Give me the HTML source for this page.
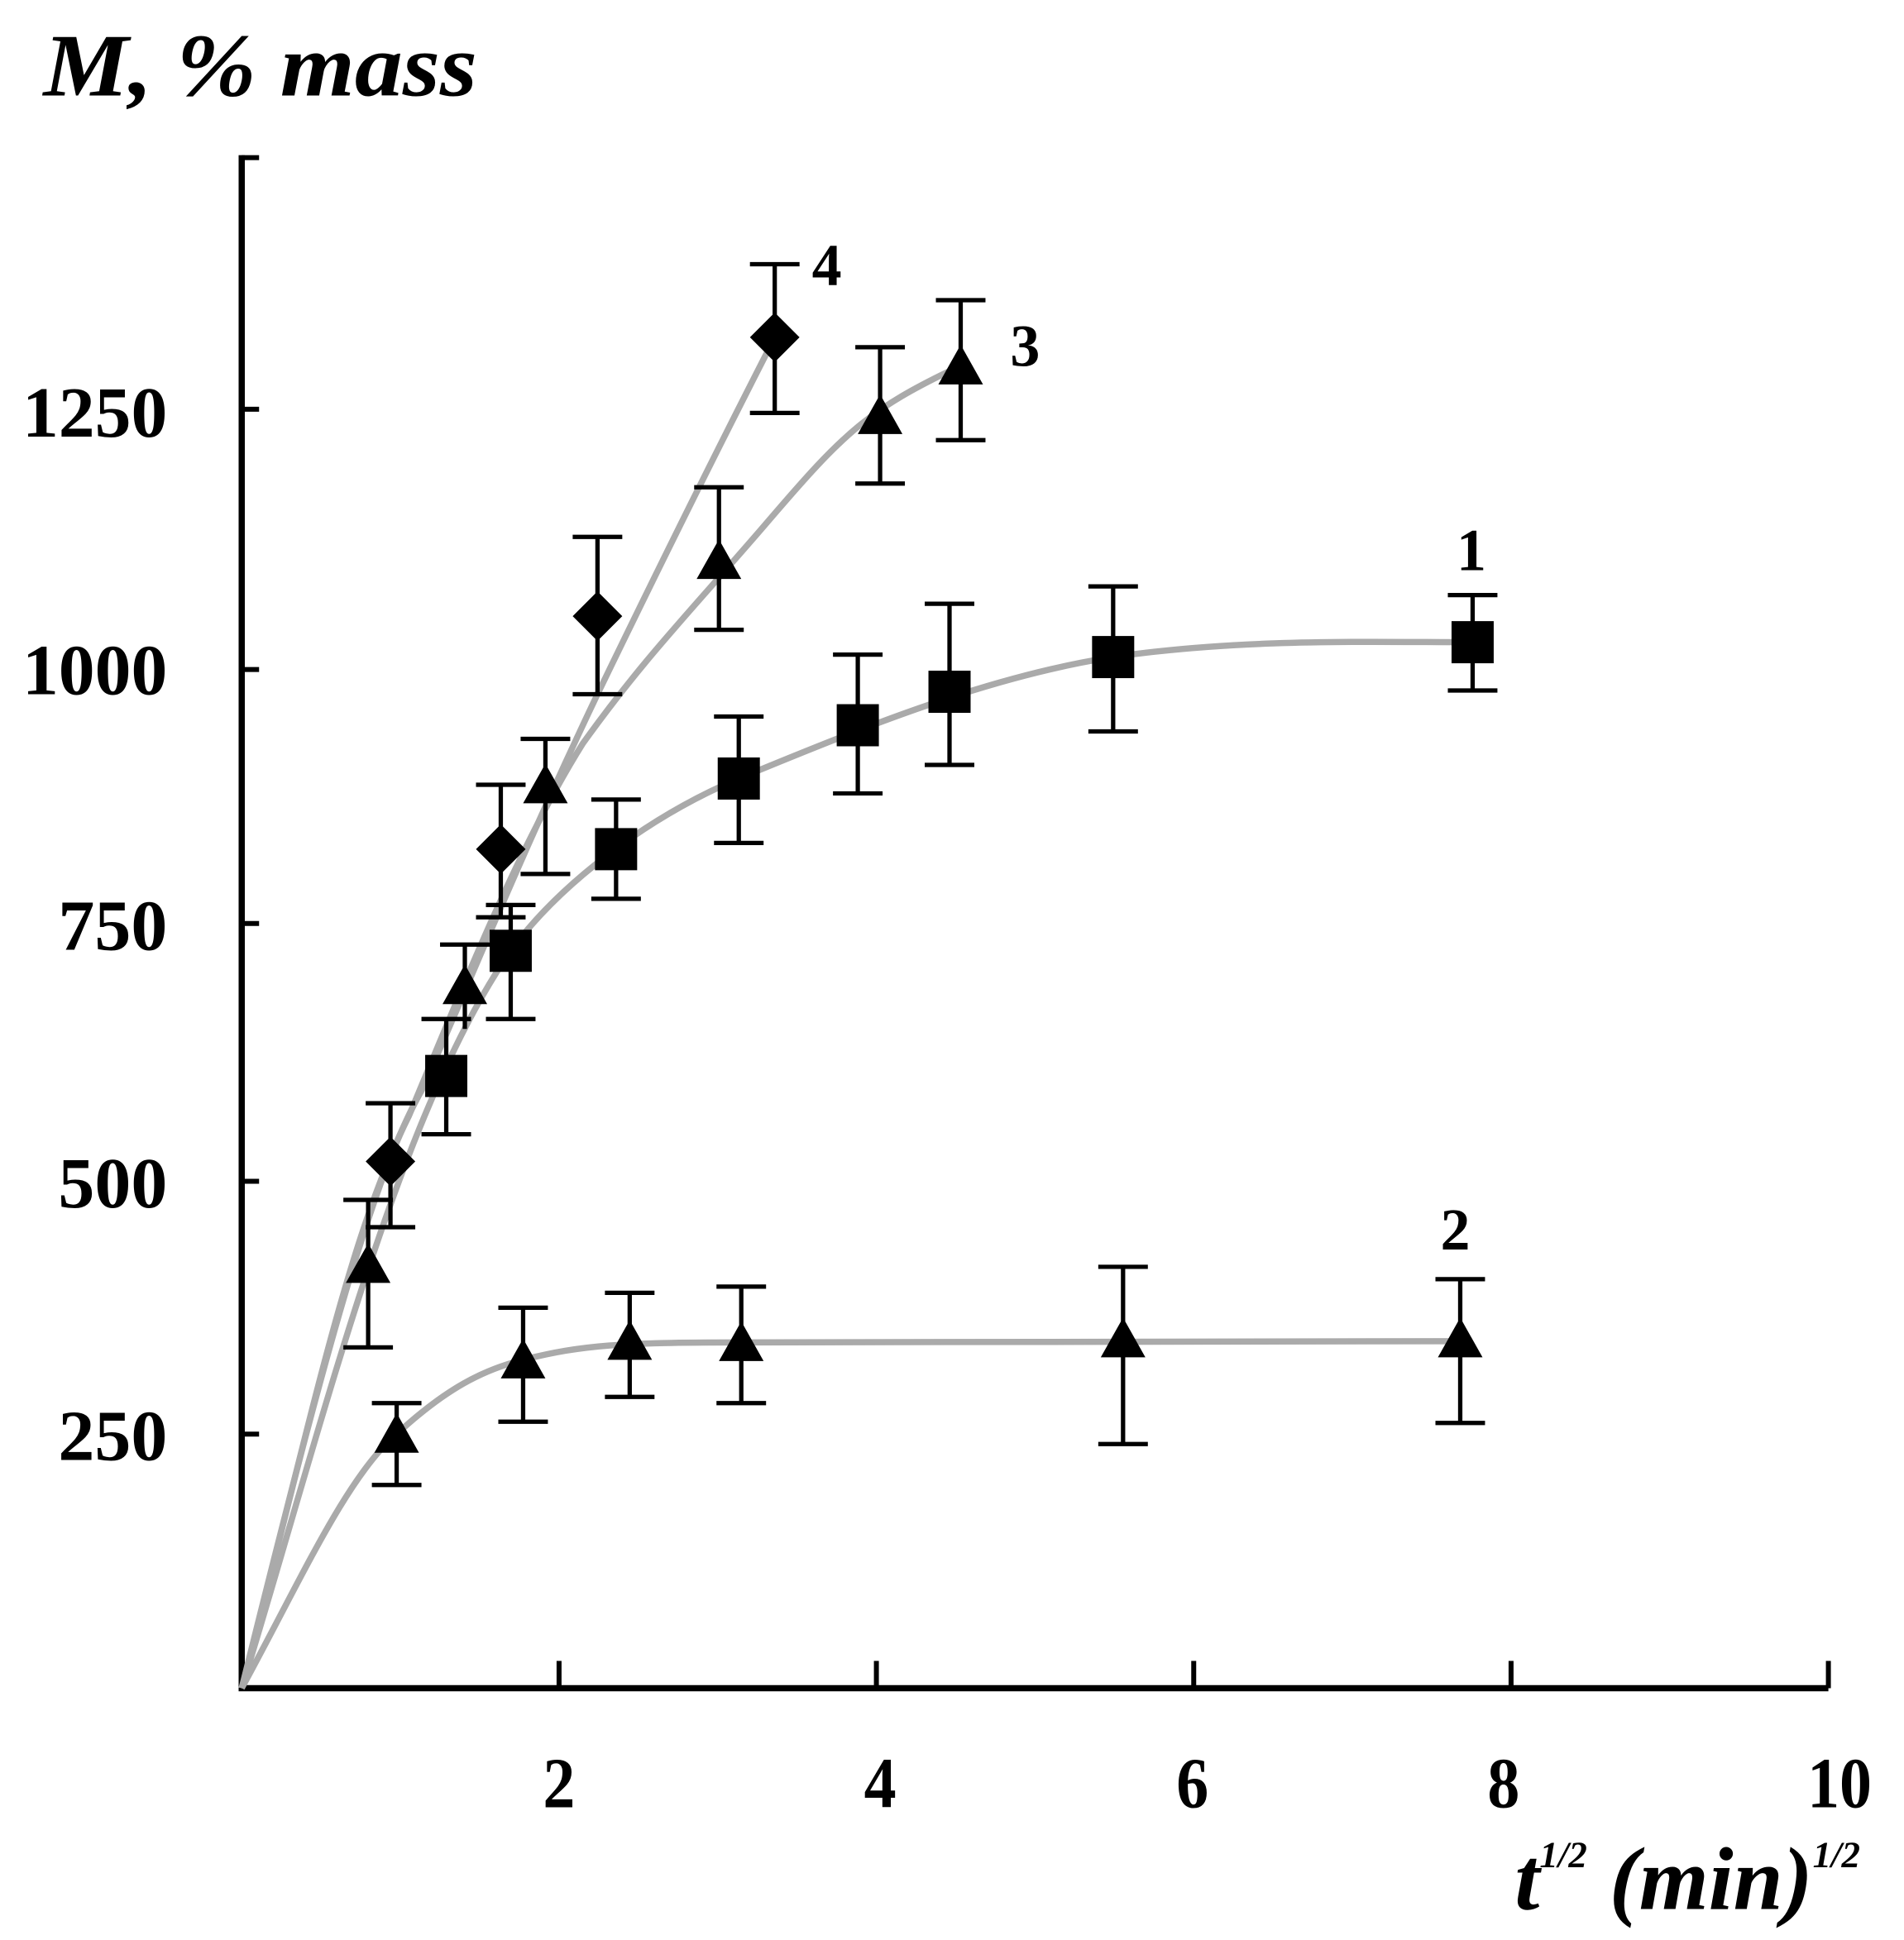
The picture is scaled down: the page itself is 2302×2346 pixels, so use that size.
<!DOCTYPE html>
<html><head><style>html,body{margin:0;padding:0;background:#fff}svg{display:block}</style></head>
<body>
<svg width="2302" height="2346" viewBox="0 0 1536 1565" xmlns="http://www.w3.org/2000/svg" font-family="Liberation Serif, serif" font-weight="bold">
<rect width="1536" height="1565" fill="#fff"/>
<g stroke="#000" stroke-width="5" fill="none">
<path d="M195,125 V1362 H1475"/>
<path d="M195,127 h14 M195,330 h14 M195,540 h14 M195,745 h14 M195,953 h14 M195,1157 h14" stroke-width="4"/>
<path d="M451,1362 v-22 M707,1362 v-22 M963,1362 v-22 M1219,1362 v-22 M1475,1362 v-22" stroke-width="4"/>
</g>
<g font-size="58">
<text x="18" y="352" textLength="117" lengthAdjust="spacingAndGlyphs">1250</text>
<text x="18" y="560" textLength="117" lengthAdjust="spacingAndGlyphs">1000</text>
<text x="47" y="766" textLength="88" lengthAdjust="spacingAndGlyphs">750</text>
<text x="47" y="974" textLength="88" lengthAdjust="spacingAndGlyphs">500</text>
<text x="47" y="1178" textLength="88" lengthAdjust="spacingAndGlyphs">250</text>
</g>
<g font-size="58">
<text x="438" y="1458" textLength="26" lengthAdjust="spacingAndGlyphs">2</text>
<text x="697" y="1458" textLength="26" lengthAdjust="spacingAndGlyphs">4</text>
<text x="949" y="1458" textLength="26" lengthAdjust="spacingAndGlyphs">6</text>
<text x="1200" y="1458" textLength="26" lengthAdjust="spacingAndGlyphs">8</text>
<text x="1458" y="1458" textLength="52" lengthAdjust="spacingAndGlyphs">10</text>
</g>
<text x="35" y="77" font-size="72" font-style="italic" textLength="350" lengthAdjust="spacingAndGlyphs">M, % mass</text>
<text x="1222" y="1540" font-size="72" font-style="italic">t<tspan font-size="30" dy="-34">1/2</tspan><tspan dy="34"> (min)</tspan><tspan font-size="30" dy="-34">1/2</tspan></text>
<g stroke="#aaa" stroke-width="5" fill="none">
<path d="M195,1362 C260,1150 320,900 412,767 C450,715 520,660 596,628 C700,585 800,545 898,530 C1000,515 1100,518 1188,518"/>
<path d="M195,1362 C240,1280 280,1190 320,1157 C360,1120 390,1105 422,1097 C470,1085 500,1083 598,1083 L1178,1082"/>
<path d="M195,1362 C250,1150 280,1000 330,900 C380,780 420,680 470,600 C520,530 560,490 620,420 C680,350 700,330 775,295"/>
<path d="M195,1362 C260,1100 300,950 340,880 C380,790 420,690 482,560 C540,440 580,360 625,272"/>
</g>
<g stroke="#000" stroke-width="3.5" fill="none">
<path d="M412,730V822M392,730h40M392,822h40"/>
<path d="M360,822V915M340,822h40M340,915h40"/>
<path d="M497,645V725M477,645h40M477,725h40"/>
<path d="M596,578V680M576,578h40M576,680h40"/>
<path d="M692,528V640M672,528h40M672,640h40"/>
<path d="M766,487V617M746,487h40M746,617h40"/>
<path d="M898,473V590M878,473h40M878,590h40"/>
<path d="M1188,480V557M1168,480h40M1168,557h40"/>
<path d="M320,1132V1198M300,1132h40M300,1198h40"/>
<path d="M422,1055V1147M402,1055h40M402,1147h40"/>
<path d="M508,1043V1127M488,1043h40M488,1127h40"/>
<path d="M598,1038V1132M578,1038h40M578,1132h40"/>
<path d="M906,1022V1165M886,1022h40M886,1165h40"/>
<path d="M1178,1032V1148M1158,1032h40M1158,1148h40"/>
<path d="M297,968V1087M277,968h40M277,1087h40"/>
<path d="M375,762V830M355,762h40"/>
<path d="M440,596V705M420,596h40M420,705h40"/>
<path d="M580,393V508M560,393h40M560,508h40"/>
<path d="M710,280V390M690,280h40M690,390h40"/>
<path d="M775,242V355M755,242h40M755,355h40"/>
<path d="M315,890V990M295,890h40M295,990h40"/>
<path d="M404,633V740M384,633h40M384,740h40"/>
<path d="M482,433V560M462,433h40M462,560h40"/>
<path d="M625,213V333M605,213h40M605,333h40"/>
</g>
<g fill="#000">
<rect x="395" y="750" width="34" height="34"/><rect x="343" y="851" width="34" height="34"/><rect x="480" y="668" width="34" height="34"/><rect x="579" y="611" width="34" height="34"/><rect x="675" y="568" width="34" height="34"/><rect x="749" y="541" width="34" height="34"/><rect x="881" y="513" width="34" height="34"/><rect x="1171" y="501" width="34" height="34"/>
<path d="M320,1140l-18,32h36z M422,1080l-18,32h36z M508,1065l-18,32h36z M598,1066l-18,32h36z M906,1063l-18,32h36z M1178,1063l-18,32h36z"/>
<path d="M297,1003l-18,32h36z M375,778l-18,32h36z M440,616l-18,32h36z M580,435l-18,32h36z M710,318l-18,32h36z M775,278l-18,32h36z"/>
<path d="M315,917l20,20l-20,20l-20,-20z M404,665l20,20l-20,20l-20,-20z M482,477l20,20l-20,20l-20,-20z M625,252l20,20l-20,20l-20,-20z"/>
</g>
<g font-size="48">
<text x="655" y="230">4</text><text x="815" y="295">3</text><text x="1175" y="460">1</text><text x="1162" y="1008">2</text>
</g>
</svg>
</body></html>
